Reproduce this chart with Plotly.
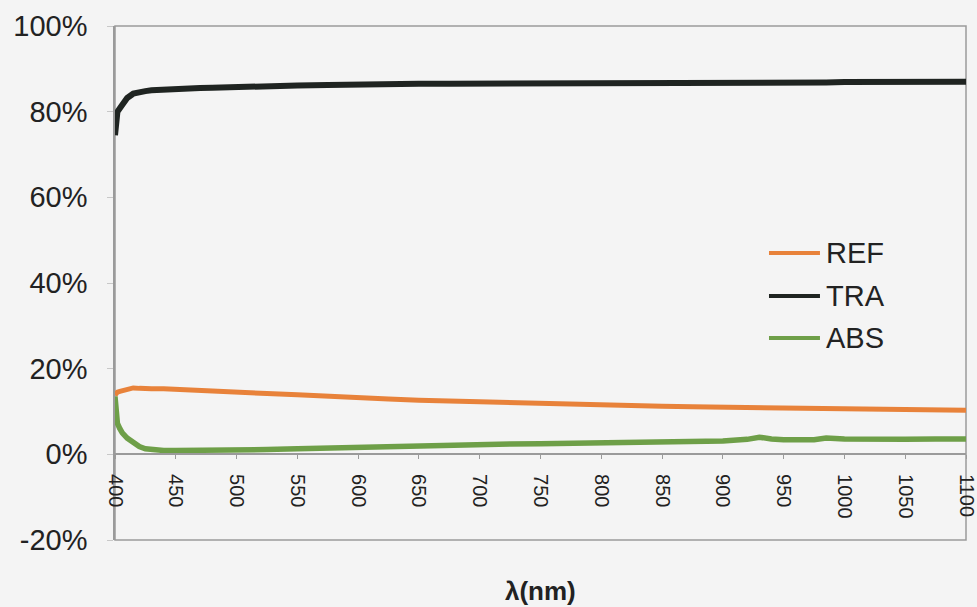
import plotly.graph_objects as go

# Wavelength grid (nm) and measured spectra (%)
wavelength = [400, 401, 402, 404, 406, 410, 415, 420, 425, 430, 440, 450, 460, 470,
              480, 500, 525, 550, 575, 600, 625, 650, 675, 700, 725, 750, 775, 800,
              825, 850, 875, 900, 920, 930, 940, 950, 975, 985, 1000, 1025, 1050,
              1075, 1100]

ref = [13.8, 14.3, 14.5, 14.7, 14.9, 15.2, 15.5, 15.4, 15.3, 15.3, 15.3, 15.2, 15.1, 15.0,
       14.8, 14.5, 14.2, 13.9, 13.5, 13.1, 12.9, 12.6, 12.4, 12.2, 12.0, 11.8, 11.6, 11.5,
       11.3, 11.2, 11.1, 11.0, 10.9, 10.9, 10.8, 10.8, 10.7, 10.7, 10.6, 10.6, 10.5,
       10.4, 10.3]

tra = [74.5, 78.5, 80.0, 80.8, 81.6, 83.2, 84.2, 84.6, 84.8, 85.0, 85.2, 85.3, 85.4, 85.5,
       85.6, 85.8, 86.0, 86.1, 86.2, 86.4, 86.4, 86.5, 86.5, 86.5, 86.5, 86.5, 86.5, 86.5,
       86.5, 86.5, 86.6, 86.6, 86.6, 86.7, 86.7, 86.7, 86.8, 86.8, 86.9, 86.9, 87.0,
       87.0, 87.0]

abs_ = [13.5, 9.0, 7.2, 6.0, 5.0, 3.8, 2.6, 1.8, 1.3, 1.1, 0.9, 0.9, 0.9, 0.9,
        0.9, 1.0, 1.1, 1.3, 1.5, 1.7, 1.8, 2.0, 2.1, 2.3, 2.4, 2.5, 2.6, 2.7,
        2.8, 2.9, 3.0, 3.1, 3.5, 4.0, 3.6, 3.4, 3.4, 3.8, 3.6, 3.4, 3.5,
        3.6, 3.6]

series_names = ["REF", "TRA", "ABS"]
series_colors = ["#e8823a", "#1f2421", "#6e9f48"]
series_widths = [5, 6, 5.5]
series_values = [ref, tra, abs_]

x_ticks = list(range(400, 1101, 50))
y_ticks = [-20, 0, 20, 40, 60, 80, 100]

BG = "#f4f4f4"
AXIS = "#9a9a9a"
FONT = "Liberation Sans, Arial, sans-serif"

fig = go.Figure()
for name, color, lw, vals in zip(series_names, series_colors, series_widths, series_values):
    fig.add_trace(go.Scatter(x=wavelength, y=vals, mode="lines", name=name,
                             line=dict(color=color, width=lw), showlegend=False))

fig.update_layout(
    width=977, height=607,
    margin=dict(l=115, r=11, t=26, b=67, autoexpand=False),
    paper_bgcolor=BG, plot_bgcolor=BG,
    font=dict(family=FONT, color="#222222"),
    xaxis=dict(range=[400, 1100], tickvals=x_ticks, ticktext=[str(v) for v in x_ticks],
               tickangle=90, tickfont=dict(size=20), showgrid=False, zeroline=False,
               showline=True, linecolor=AXIS, linewidth=1.5,
               ticks="outside", ticklen=4, tickcolor=AXIS,
               anchor="free", position=20 / 120, ticklabelstandoff=11,
               ticklabeloverflow="allow", automargin=False),
    yaxis=dict(range=[-20, 100], tickvals=y_ticks, ticktext=[f"{v}%" for v in y_ticks],
               tickfont=dict(size=29), showgrid=False, zeroline=False,
               showline=True, linecolor=AXIS, linewidth=1.5,
               ticks="outside", ticklen=6, tickcolor="#c8c8c8", ticklabelstandoff=14,
               automargin=False),
)

# plot-area frame
fig.add_shape(type="rect", xref="paper", yref="paper", x0=0, x1=1, y0=0, y1=1,
              line=dict(color=AXIS, width=1.5), layer="below")

# legend: sample line + label for each series
legend_y = [0.5584, 0.4747, 0.393]
for name, color, ly in zip(series_names, series_colors, legend_y):
    fig.add_shape(type="line", xref="paper", yref="paper", x0=0.7685, x1=0.8284,
                  y0=ly, y1=ly, line=dict(color=color, width=4))
    fig.add_annotation(xref="paper", yref="paper", x=0.8335, y=ly, text=name,
                       showarrow=False, xanchor="left", yanchor="middle",
                       font=dict(size=29, family=FONT, color="#222222"))

# x-axis title
fig.add_annotation(xref="paper", yref="paper", x=0.5, y=-0.099, text="<b>λ(nm)</b>",
                   showarrow=False, xanchor="center", yanchor="middle",
                   font=dict(size=26, family=FONT, color="#222222"))

fig.write_html("out.html")
